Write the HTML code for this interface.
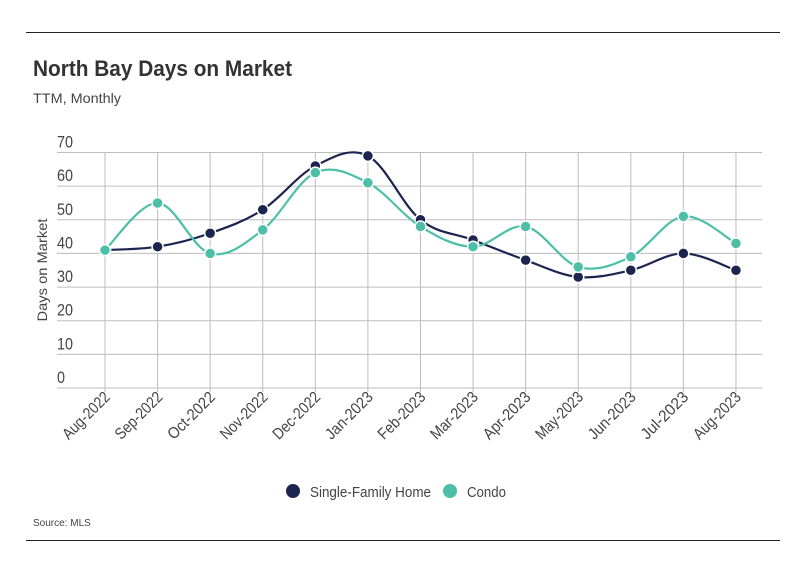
<!DOCTYPE html>
<html><head><meta charset="utf-8"><style>
body{margin:0;background:#fff;}
svg text{font-family:"Liberation Sans Narrow","Liberation Sans",sans-serif;}
</style></head><body>
<svg id="s" width="799" height="575" xmlns="http://www.w3.org/2000/svg">
<rect width="799" height="575" fill="#fff"/>
<line x1="26" y1="32.5" x2="780" y2="32.5" stroke="#222" stroke-width="1"/>
<line x1="26" y1="540.5" x2="780" y2="540.5" stroke="#222" stroke-width="1"/>
<text x="33" y="76" font-size="22" font-weight="bold" fill="#333" textLength="259" lengthAdjust="spacingAndGlyphs">North Bay Days on Market</text>
<text x="33" y="103" font-size="14" fill="#444" textLength="88" lengthAdjust="spacingAndGlyphs">TTM, Monthly</text>
<g id="grid"></g>
<text transform="translate(47,270) rotate(-90)" text-anchor="middle" font-size="14" fill="#444" textLength="103" lengthAdjust="spacingAndGlyphs">Days on Market</text>
<g id="lines"></g>
<circle cx="293" cy="491" r="7" fill="#1b2550"/>
<text x="310" y="497" font-size="15" fill="#444" textLength="121" lengthAdjust="spacingAndGlyphs">Single-Family Home</text>
<circle cx="450" cy="491" r="7" fill="#4dbfa8"/>
<text x="467" y="497" font-size="15" fill="#444" textLength="39" lengthAdjust="spacingAndGlyphs">Condo</text>
<text x="33" y="526" font-size="10" fill="#444">Source:  MLS</text>
</svg>
<script>
var NS="http://www.w3.org/2000/svg";
function el(p,t,a,txt){var e=document.createElementNS(NS,t);for(var k in a)e.setAttribute(k,a[k]);if(txt)e.textContent=txt;p.appendChild(e);return e;}
var g=document.getElementById('grid'),L=document.getElementById('lines');
function Y(v){return 388-v*(235.5/70);}
function X(i){return 105+i*52.58;}
for(var v=0;v<=70;v+=10){var y=Y(v);el(g,'line',{x1:57,x2:762,y1:y,y2:y,stroke:'#bdbdbd','stroke-width':1});
var a={x:57,y:y-5,'font-size':17,fill:'#444',textLength:(v>0?16:8),lengthAdjust:'spacingAndGlyphs'};
el(g,'text',a,String(v));}
var m=['Aug-2022','Sep-2022','Oct-2022','Nov-2022','Dec-2022','Jan-2023','Feb-2023','Mar-2023','Apr-2023','May-2023','Jun-2023','Jul-2023','Aug-2023'];
for(var i=0;i<13;i++){var x=X(i);el(g,'line',{x1:x,x2:x,y1:153,y2:392,stroke:'#bdbdbd','stroke-width':1});
el(g,'text',{transform:'translate('+(x+6)+',398) rotate(-45)','text-anchor':'end','font-size':16,fill:'#444',textLength:60,lengthAdjust:'spacingAndGlyphs'},m[i]);}
var sfh=[41,42,46,53,66,69,50,44,38,33,35,40,35],con=[41,55,40,47,64,61,48,42,48,36,39,51,43];
function draw(d,c){var p=d.map(function(v,i){return[X(i),Y(v)]});var s='M'+p[0][0]+','+p[0][1];
for(var i=0;i<p.length-1;i++){var p0=p[Math.max(i-1,0)],p1=p[i],p2=p[i+1],p3=p[Math.min(i+2,p.length-1)],t=0.17;
s+=' C'+(p1[0]+(p2[0]-p0[0])*t)+','+(p1[1]+(p2[1]-p0[1])*t)+' '+(p2[0]-(p3[0]-p1[0])*t)+','+(p2[1]-(p3[1]-p1[1])*t)+' '+p2[0]+','+p2[1];}
el(L,'path',{d:s,fill:'none',stroke:c,'stroke-width':2.2});
p.forEach(function(q){el(L,'circle',{cx:q[0],cy:q[1],r:5.5,fill:c,stroke:'#fff','stroke-width':1.5});});}
draw(sfh,'#1b2550');draw(con,'#4dbfa8');
</script>
</body></html>
